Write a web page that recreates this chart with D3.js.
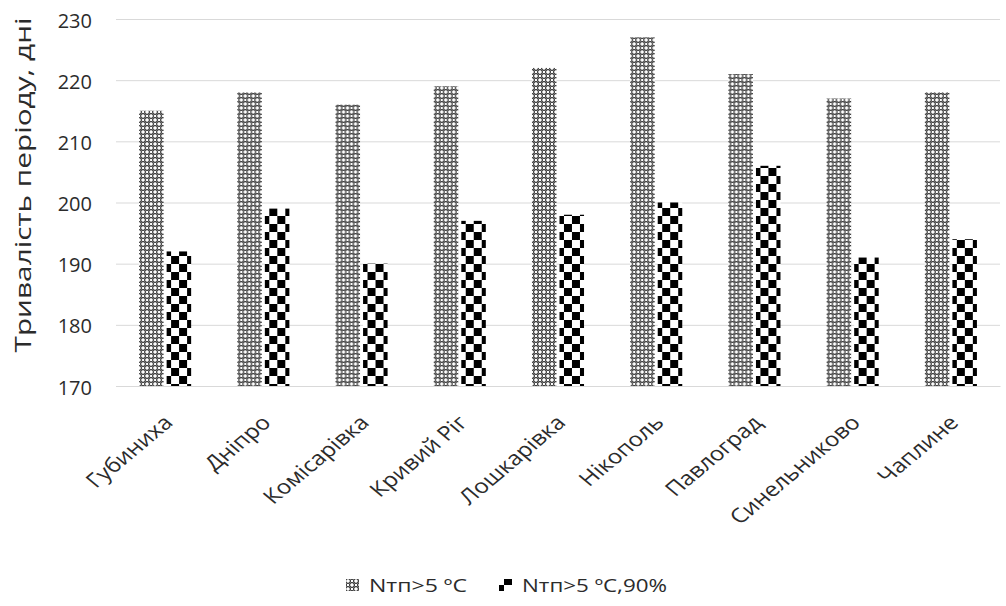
<!DOCTYPE html>
<html>
<head>
<meta charset="utf-8">
<script src="https://cdn.jsdelivr.net/npm/d3@7"></script>
<style>
  body { margin: 0; background: #fff; }
  svg text { font-family: "Open Sans", "Noto Sans", sans-serif; fill: #2b2b2b; }
</style>
</head>
<body>
<svg id="chart" width="1006" height="606"></svg>
<script>
// Stations and growing-season duration (days)
const categories = ["Губиниха", "Дніпро", "Комісарівка", "Кривий Ріг", "Лошкарівка", "Нікополь", "Павлоград", "Синельниково", "Чаплине"];
const seriesNames = ["Nтп>5 ºC", "Nтп>5 ºC,90%"];
const valuesMean = [215, 218, 216, 219, 222, 227, 221, 217, 218];
const values90 = [192, 199, 190, 197, 198, 200, 206, 191, 194];
const yTicks = [170, 180, 190, 200, 210, 220, 230];

const svg = d3.select("#chart");
const plot = { left: 116, right: 1000, top: 19, bottom: 386 };

const x0 = d3.scaleBand().domain(categories).range([plot.left, plot.right]).paddingInner(0.47).paddingOuter(0.235);
const x1 = d3.scaleBand().domain(seriesNames).range([0, x0.bandwidth()]).paddingInner(0.11);
const y = d3.scaleLinear().domain([170, 230]).range([plot.bottom, plot.top]);

// Fill patterns
const defs = svg.append("defs");
const p1 = defs.append("pattern").attr("id", "pat-fine").attr("patternUnits", "userSpaceOnUse")
  .attr("width", 8).attr("height", 8);
p1.append("rect").attr("width", 8).attr("height", 8).attr("fill", "#fff");
[[0,0],[8,0],[0,8],[8,8],[4,4]].forEach(([cx, cy]) =>
  p1.append("circle").attr("cx", cx).attr("cy", cy).attr("r", 2.4).attr("fill", "none")
    .attr("stroke", "#000").attr("stroke-width", 1));

const p2 = defs.append("pattern").attr("id", "pat-check").attr("patternUnits", "userSpaceOnUse")
  .attr("width", 16).attr("height", 16);
p2.append("rect").attr("width", 16).attr("height", 16).attr("fill", "#fff");
p2.append("rect").attr("x", 0).attr("y", 0).attr("width", 8).attr("height", 8).attr("fill", "#000");
p2.append("rect").attr("x", 8).attr("y", 8).attr("width", 8).attr("height", 8).attr("fill", "#000");

const fills = { [seriesNames[0]]: "url(#pat-fine)", [seriesNames[1]]: "url(#pat-check)" };

// Gridlines
svg.append("g").selectAll("line").data(yTicks).join("line")
  .attr("x1", plot.left).attr("x2", plot.right)
  .attr("y1", d => y(d) + 0.5).attr("y2", d => y(d) + 0.5)
  .attr("stroke", "#d9d9d9").attr("stroke-width", 1);

// Y axis labels
const yAxis = d3.axisLeft(y).tickValues(yTicks).tickSize(0).tickPadding(0);
const gy = svg.append("g").attr("transform", `translate(${plot.left - 24},0)`).call(yAxis);
gy.select(".domain").remove();
gy.selectAll("text").style("font-size", "20px").attr("fill", "#2b2b2b").attr("dy", "0.4em");

// Bars
const rows = categories.map((c, i) => ({ cat: c, vals: [valuesMean[i], values90[i]] }));
const groups = svg.append("g").selectAll("g").data(rows).join("g")
  .attr("transform", d => `translate(${x0(d.cat)},0)`);
groups.selectAll("rect").data(d => d.vals.map((v, k) => ({ key: seriesNames[k], v }))).join("rect")
  .attr("x", d => x1(d.key))
  .attr("width", x1.bandwidth())
  .attr("y", d => y(d.v))
  .attr("height", d => y(170) - y(d.v))
  .attr("fill", d => fills[d.key]);

// X axis labels, slanted
const xAxis = d3.axisBottom(x0).tickSize(0).tickPadding(0);
const gx = svg.append("g").attr("transform", `translate(0,${plot.bottom})`).call(xAxis);
gx.select(".domain").attr("stroke", "#d9d9d9");
gx.selectAll("text")
  .style("font-size", "20px").attr("fill", "#2b2b2b")
  .attr("text-anchor", "end")
  .attr("dy", null).attr("y", 0)
  .attr("transform", "translate(9,38) scale(1.2,1) rotate(-45)");

// Y axis title
svg.append("text")
  .attr("transform", `translate(31,185) rotate(-90)`)
  .attr("text-anchor", "middle")
  .attr("textLength", 335).attr("lengthAdjust", "spacingAndGlyphs")
  .style("font-size", "21px")
  .text("Тривалість періоду, дні");

// Legend
const legend = svg.append("g").attr("transform", "translate(0,585)");
const legendItems = [
  { name: seriesNames[0], x: 346, w: 98 },
  { name: seriesNames[1], x: 499, w: 145 }
];
legendItems.forEach(it => {
  legend.append("rect").attr("x", it.x).attr("y", -6).attr("width", 13).attr("height", 12).attr("fill", fills[it.name]);
  legend.append("text").attr("x", it.x + 23).attr("y", 0).attr("dy", "0.36em")
    .attr("textLength", it.w).attr("lengthAdjust", "spacingAndGlyphs")
    .style("font-size", "19px").text(it.name);
});
</script>
</body>
</html>
